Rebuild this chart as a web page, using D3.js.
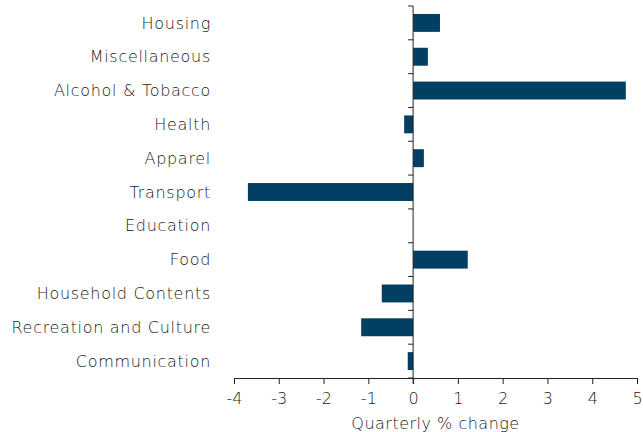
<!DOCTYPE html>
<meta charset="utf-8">
<style>
body { margin: 0; background: #fff; }
text { font-family: "DejaVu Sans", sans-serif; font-weight: 200; fill: #1a1a1a; }
</style>
<script src="https://d3js.org/d3.v7.min.js"></script>
<div id="chart"></div>
<script>
// categories top to bottom and their quarterly % change
const categories = ["Housing", "Miscellaneous", "Alcohol & Tobacco", "Health", "Apparel",
  "Transport", "Education", "Food", "Household Contents", "Recreation and Culture", "Communication"];
const values = [0.6, 0.33, 4.75, -0.2, 0.24, -3.69, 0, 1.22, -0.7, -1.16, -0.12];
const xTicks = [-4, -3, -2, -1, 0, 1, 2, 3, 4, 5];
const xTitle = "Quarterly % change";

const W = 643, H = 432;
const margin = {top: 6, right: 6, bottom: 54, left: 234};
const width = W - margin.left - margin.right,
      height = H - margin.top - margin.bottom;

const svg = d3.select("#chart").append("svg")
    .attr("width", W).attr("height", H)
  .append("g")
    .attr("transform", `translate(${margin.left},${margin.top})`);

const x = d3.scaleLinear().domain([-4, 5]).range([0, 403]);
const y = d3.scaleBand().domain(categories).range([0, height]).paddingInner(0.47).paddingOuter(0.235);

// bars
svg.selectAll("rect.bar")
  .data(values)
  .join("rect")
    .attr("class", "bar")
    .attr("x", d => x(Math.min(0, d)))
    .attr("width", d => Math.abs(x(d) - x(0)))
    .attr("y", (d, i) => y(categories[i]))
    .attr("height", y.bandwidth())
    .attr("fill", "#023f63");

// x axis
const xa = svg.append("g")
    .attr("transform", `translate(0,${height})`)
    .call(d3.axisBottom(x).tickValues(xTicks).tickSize(6).tickSizeOuter(6).tickFormat(d => String(d)));
xa.select(".domain").attr("stroke", "#222");
xa.selectAll(".tick line").attr("stroke", "#222");
xa.selectAll("text").attr("font-size", 16).attr("dy", "1.05em").attr("fill", "#1a1a1a")
  .style("font-family", "DejaVu Sans, sans-serif").style("font-weight", 200);

svg.append("text")
    .attr("x", x(0.5))
    .attr("y", height + 51)
    .attr("text-anchor", "middle")
    .attr("font-size", 16)
    .attr("letter-spacing", 0.5)
    .text(xTitle);

// y axis at zero, ticks at band boundaries
const bounds = d3.range(categories.length + 1).map(i => i * height / categories.length);
svg.append("line")
    .attr("x1", x(0)).attr("x2", x(0))
    .attr("y1", 0).attr("y2", height + 6)
    .attr("stroke", "#222");
svg.selectAll("line.ytick")
  .data(bounds)
  .join("line")
    .attr("class", "ytick")
    .attr("x1", x(0) - 5).attr("x2", x(0))
    .attr("y1", d => d).attr("y2", d => d)
    .attr("stroke", "#222");

// category labels
svg.selectAll("text.cat")
  .data(categories)
  .join("text")
    .attr("class", "cat")
    .attr("x", -23)
    .attr("y", d => y(d) + y.bandwidth() / 2)
    .attr("dy", "0.35em")
    .attr("text-anchor", "end")
    .attr("font-size", 16)
    .attr("letter-spacing", 0.7)
    .text(d => d);
</script>
